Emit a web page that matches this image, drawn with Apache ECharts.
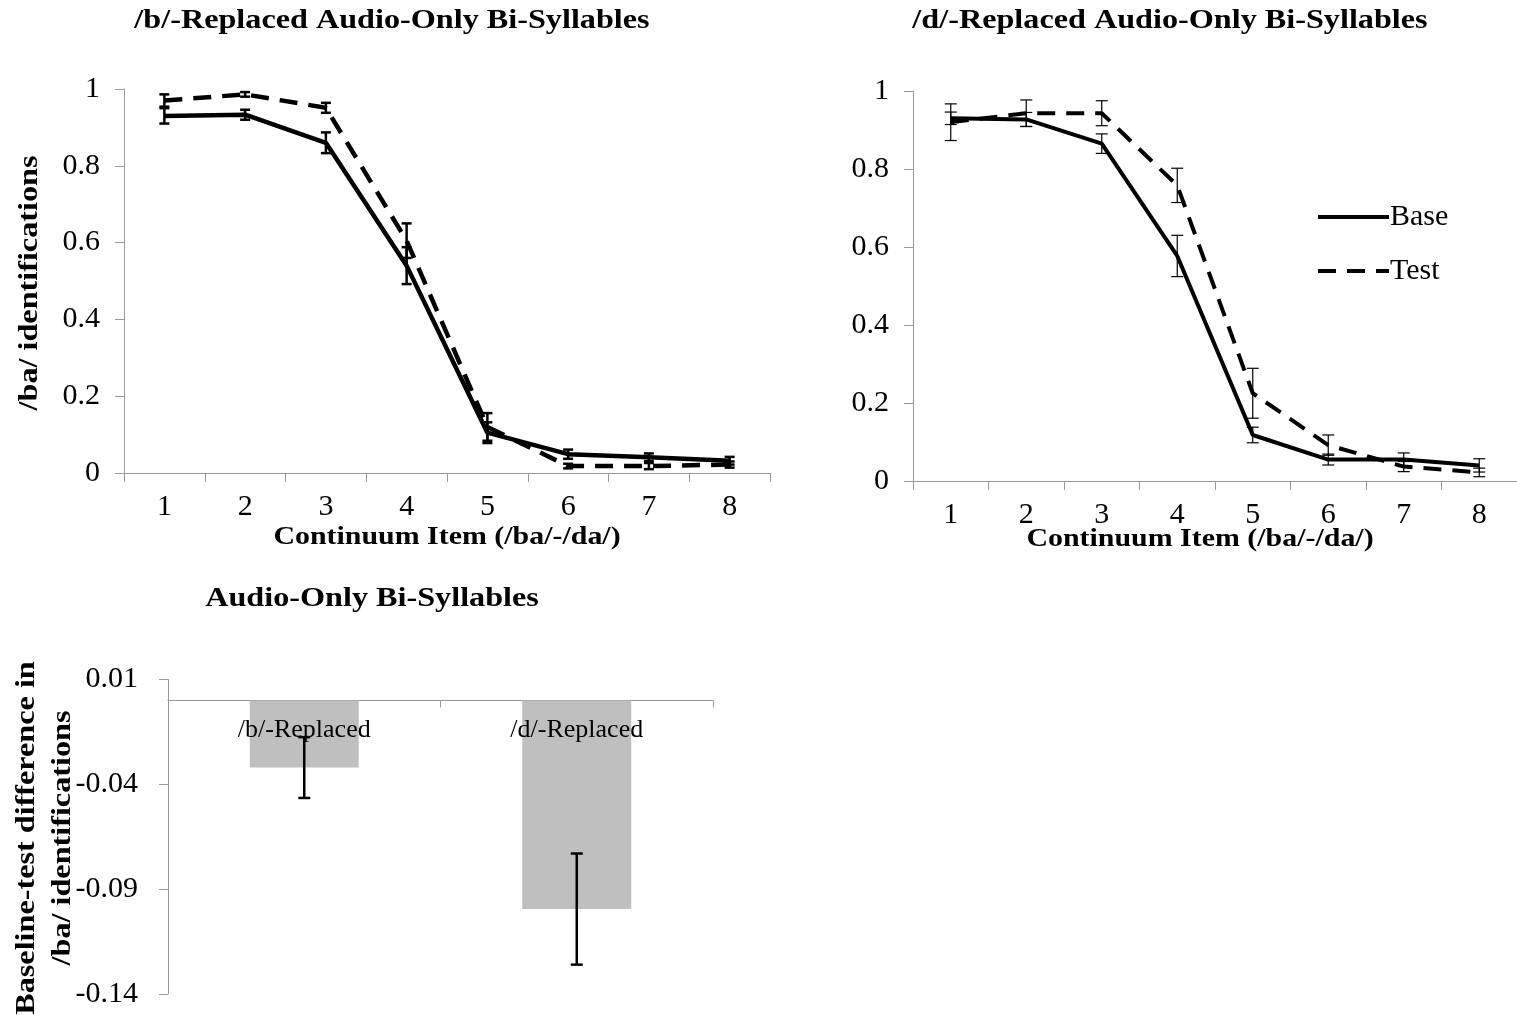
<!DOCTYPE html>
<html>
<head>
<meta charset="utf-8">
<script src="https://cdn.jsdelivr.net/npm/echarts@6/dist/echarts.min.js"></script>
<style>
  html, body { margin: 0; padding: 0; background: #fff; }
  #main { width: 1517px; height: 1024px; }
</style>
</head>
<body>
<div id="main"></div>
<script>
// continuum items 1..8
const items = ['1', '2', '3', '4', '5', '6', '7', '8']

// /b/-replaced: base and test, with error bar half-lengths
const bBase = [0.93, 0.933, 0.86, 0.54, 0.105, 0.049, 0.041, 0.032]
const bBaseErr = [0.02, 0.013, 0.027, 0.048, 0.027, 0.012, 0.01, 0.01]
const bTest = [0.97, 0.986, 0.951, 0.605, 0.12, 0.018, 0.018, 0.022]
const bTestErr = [0.016, 0.006, 0.013, 0.045, 0.036, 0.006, 0.008, 0.008]

// /d/-replaced
const dBase = [0.93, 0.927, 0.865, 0.577, 0.118, 0.055, 0.055, 0.04]
const dBaseErr = [0.016, 0.018, 0.025, 0.053, 0.02, 0.014, 0.017, 0.017]
const dTest = [0.92, 0.943, 0.943, 0.758, 0.225, 0.092, 0.037, 0.022]
const dTestErr = [0.047, 0.034, 0.032, 0.044, 0.064, 0.026, 0.013, 0.011]

// baseline-test difference
const diffCats = ['/b/-Replaced', '/d/-Replaced']
const diffVals = [-0.032, -0.0995]
const diffErr = [0.0145, 0.0265]
const diffTicks = [-0.14, -0.09, -0.04, 0.01]

const SERIF = '"Liberation Serif", "Times New Roman", serif'
const AXIS_GRAY = '#9a9a9a'

const errData = (vals, errs) => vals.map((v, i) => [i, v - errs[i], v + errs[i]])

// error bar drawn with the axis scales
const errRender = (half, width) => (params, api) => {
  const x = api.value(0)
  const lo = api.coord([x, api.value(1)])
  const hi = api.coord([x, api.value(2)])
  const st = { stroke: '#000', lineWidth: width }
  return {
    type: 'group',
    children: [
      { type: 'line', shape: { x1: lo[0], y1: lo[1], x2: hi[0], y2: hi[1] }, style: st },
      { type: 'line', shape: { x1: lo[0] - half, y1: lo[1], x2: lo[0] + half, y2: lo[1] }, style: st },
      { type: 'line', shape: { x1: hi[0] - half, y1: hi[1], x2: hi[0] + half, y2: hi[1] }, style: st }
    ]
  }
}

const catAxis = (grid, data) => ({
  type: 'category',
  gridIndex: grid,
  data: data,
  boundaryGap: true,
  axisLine: { lineStyle: { color: AXIS_GRAY, width: 1 } },
  axisTick: { show: true, length: 9, lineStyle: { color: AXIS_GRAY } },
  axisLabel: { color: '#000', fontFamily: SERIF, fontSize: 30, margin: 19 },
  splitLine: { show: false }
})

const valAxis01 = (grid) => ({
  type: 'value',
  gridIndex: grid,
  min: 0,
  max: 1,
  interval: 0.2,
  axisLine: { show: true, lineStyle: { color: AXIS_GRAY, width: 1 } },
  axisTick: { show: true, length: 9, lineStyle: { color: AXIS_GRAY } },
  axisLabel: { color: '#000', fontFamily: SERIF, fontSize: 30, margin: 24 },
  splitLine: { show: false }
})

const lineSeries = (name, grid, data, dashed, w) => ({
  name: name,
  type: 'line',
  xAxisIndex: grid,
  yAxisIndex: grid,
  data: data,
  symbol: 'none',
  silent: true,
  lineStyle: { color: '#000', width: w, type: dashed ? [18, 11] : 'solid' },
  itemStyle: { color: '#000' },
  z: 3
})

const errSeries = (grid, data, half, width) => ({
  type: 'custom',
  xAxisIndex: grid,
  yAxisIndex: grid,
  data: data,
  encode: { x: 0, y: [1, 2] },
  renderItem: errRender(half, width),
  silent: true,
  z: 4
})

// bold serif text, stretched a little along its direction like the original
const boldText = (x, y, text, size, rot) => ({
  type: 'text',
  x: x,
  y: y,
  rotation: rot || 0,
  scaleX: 1.15,
  style: {
    text: text,
    font: 'bold ' + size + 'px ' + SERIF,
    fill: '#000',
    textAlign: 'center',
    textVerticalAlign: 'middle',
    lineHeight: 36
  }
})

const myChart = echarts.init(document.querySelector('#main'))
const option = {
  animation: false,
  backgroundColor: '#fff',
  grid: [
    { left: 124, top: 89, width: 646, height: 384 },
    { left: 913, top: 91, width: 608, height: 390 },
    { left: 168, top: 679.5, width: 545, height: 314.5 }
  ],
  xAxis: [
    catAxis(0, items),
    catAxis(1, items),
    Object.assign(catAxis(2, diffCats), {
      axisTick: { show: true, length: 7, lineStyle: { color: AXIS_GRAY } },
      axisLabel: { show: false }
    })
  ],
  yAxis: [
    valAxis01(0),
    valAxis01(1),
    {
      type: 'value',
      gridIndex: 2,
      min: -0.14,
      max: 0.01,
      axisLine: { show: true, lineStyle: { color: AXIS_GRAY, width: 1 } },
      axisTick: { show: true, length: 9, customValues: diffTicks, lineStyle: { color: AXIS_GRAY } },
      axisLabel: {
        color: '#000', fontFamily: SERIF, fontSize: 30, margin: 30,
        customValues: diffTicks,
        formatter: v => String(Number(v.toFixed(2)))
      },
      splitLine: { show: false }
    }
  ],
  legend: {
    data: ['Base', 'Test'],
    orient: 'vertical',
    left: 1311,
    top: 197,
    itemWidth: 71,
    itemHeight: 14,
    itemGap: 24,
    selectedMode: false,
    itemStyle: { opacity: 0 },
    lineStyle: { width: 4 },
    textStyle: { color: '#000', fontFamily: SERIF, fontSize: 30, padding: [0, 0, 0, -4] }
  },
  graphic: [
    boldText(392, 21, '/b/-Replaced Audio-Only Bi-Syllables', 28),
    boldText(1170, 21, '/d/-Replaced Audio-Only Bi-Syllables', 28),
    boldText(447, 537, 'Continuum Item (/ba/-/da/)', 26),
    boldText(1200, 539, 'Continuum Item (/ba/-/da/)', 26),
    boldText(30, 283, '/ba/ identifications', 28, Math.PI / 2),
    boldText(372, 599, 'Audio-Only Bi-Syllables', 28),
    boldText(45, 838, 'Baseline-test difference in\n/ba/ identifications', 28, Math.PI / 2)
  ],
  series: [
    lineSeries('Base', 0, bBase, false, 4.5),
    lineSeries('Test', 0, bTest, true, 4.5),
    errSeries(0, errData(bBase, bBaseErr), 5, 2.5),
    errSeries(0, errData(bTest, bTestErr), 5, 2.5),
    lineSeries('Base', 1, dBase, false, 4),
    lineSeries('Test', 1, dTest, true, 4),
    errSeries(1, errData(dBase, dBaseErr), 6, 1.2),
    errSeries(1, errData(dTest, dTestErr), 6, 1.2),
    {
      type: 'bar',
      xAxisIndex: 2,
      yAxisIndex: 2,
      data: diffVals,
      barWidth: '40%',
      silent: true,
      itemStyle: { color: '#bfbfbf' },
      // category names sit just under the zero line, over the bars
      label: {
        show: true,
        position: 'insideTop',
        distance: 17,
        formatter: '{b}',
        color: '#000',
        fontFamily: SERIF,
        fontSize: 26
      },
      z: 2
    },
    errSeries(2, errData(diffVals, diffErr), 6, 2.5)
  ]
}
myChart.setOption(option)
</script>
</body>
</html>
